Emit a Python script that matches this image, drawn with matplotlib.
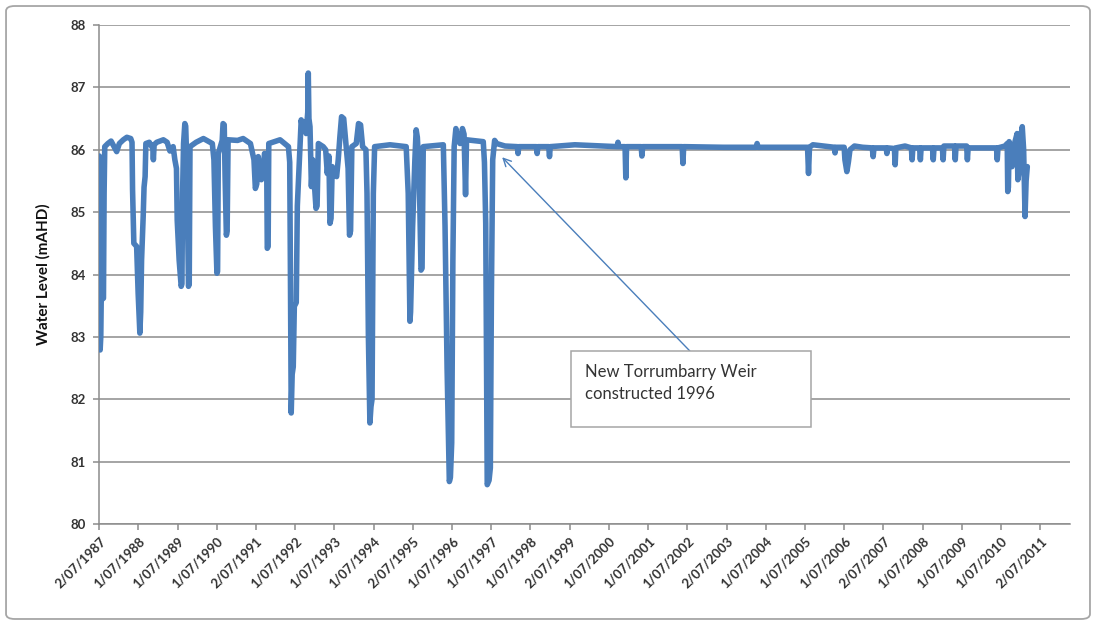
import matplotlib
matplotlib.use("Agg")
import matplotlib.pyplot as plt
from matplotlib.patches import FancyBboxPatch, Rectangle
import pandas as pd

plt.rcParams['font.family'] = ['Lato', 'DejaVu Sans']

# Water level record upstream of Torrumbarry Weir (m AHD)
dates = [
    # 1987-1988
    "1987-07-02", "1987-07-06", "1987-07-10", "1987-07-16", "1987-07-20", "1987-08-10",
    "1987-08-16", "1987-08-22", "1987-09-20", "1987-10-20", "1987-11-25", "1987-12-11",
    "1988-01-05", "1988-02-11", "1988-03-15", "1988-04-20", "1988-05-02", "1988-05-07",
    "1988-05-19", "1988-06-14", "1988-06-28", "1988-07-14", "1988-07-22", "1988-07-30",
    "1988-08-14", "1988-08-22", "1988-09-01", "1988-09-08", "1988-10-10", "1988-11-12",
    "1988-11-17", "1988-11-24", "1988-12-18",
    # 1989-1990
    "1989-02-18", "1989-03-25", "1989-04-20", "1989-05-20", "1989-06-05", "1989-06-20",
    "1989-06-27", "1989-07-15", "1989-08-03", "1989-08-10", "1989-08-16", "1989-08-25",
    "1989-09-06", "1989-09-14", "1989-09-20", "1989-09-28", "1989-10-10", "1989-10-17",
    "1989-10-24", "1989-12-20", "1990-02-26", "1990-05-20", "1990-06-04", "1990-06-18",
    "1990-07-02", "1990-07-08", "1990-07-15", "1990-08-20", "1990-08-28", "1990-09-08",
    "1990-09-16", "1990-09-28", "1990-10-05", "1990-10-14",
    # 1991-1992
    "1991-01-10", "1991-03-03", "1991-05-10", "1991-06-12", "1991-06-25", "1991-07-08",
    "1991-07-22", "1991-08-20", "1991-09-05", "1991-09-18", "1991-10-08", "1991-10-14",
    "1991-10-22", "1991-10-28", "1992-02-10", "1992-04-28", "1992-05-10", "1992-05-16",
    "1992-05-24", "1992-06-02", "1992-06-12", "1992-06-22", "1992-07-10", "1992-07-20",
    "1992-08-10", "1992-08-25", "1992-09-10", "1992-09-25", "1992-10-10", "1992-10-25",
    "1992-10-30", "1992-11-05", "1992-11-15", "1992-11-28", "1992-12-10", "1992-12-24",
    # 1993-1994
    "1993-01-10", "1993-01-20", "1993-02-01", "1993-03-18", "1993-04-10", "1993-04-25",
    "1993-05-10", "1993-05-20", "1993-05-30", "1993-06-10", "1993-06-30", "1993-07-21",
    "1993-08-05", "1993-08-20", "1993-09-05", "1993-09-25", "1993-10-16", "1993-11-05",
    "1993-11-18", "1993-11-28", "1993-12-10", "1994-01-20", "1994-02-10", "1994-03-01",
    "1994-03-20", "1994-04-20", "1994-04-30", "1994-05-13", "1994-05-27", "1994-06-06",
    "1994-06-16", "1994-06-28", "1994-07-10", "1994-11-30",
    # 1995-1997
    "1995-04-30", "1995-05-19", "1995-06-04", "1995-06-10", "1995-06-29", "1995-07-20",
    "1995-08-01", "1995-08-12", "1995-08-30", "1995-09-15", "1995-09-25", "1995-10-06",
    "1996-04-10", "1996-04-26", "1996-05-15", "1996-06-05", "1996-06-15", "1996-06-27",
    "1996-07-08", "1996-07-20", "1996-08-05", "1996-08-20", "1996-09-13", "1996-10-05",
    "1996-10-20", "1996-11-03", "1996-11-12", "1997-04-17", "1997-04-28", "1997-05-10",
    "1997-05-24", "1997-06-10", "1997-06-22", "1997-07-02", "1997-07-14", "1997-08-01",
    "1997-08-20", "1997-11-06",
    # 1998-2004
    "1998-02-28", "1998-03-07", "1998-03-14", "1998-08-25", "1998-09-01", "1998-09-08",
    "1998-12-18", "1998-12-25", "1999-01-01", "1999-08-18", "2000-09-15", "2000-09-23",
    "2000-10-01", "2000-11-28", "2000-12-05", "2000-12-12", "2001-04-27", "2001-05-04",
    "2001-05-11", "2002-05-14", "2002-05-21", "2002-05-28", "2003-06-01", "2004-04-01",
    "2004-04-11", "2004-04-21",
    # 2005-2009
    "2005-07-25", "2005-08-03", "2005-08-12", "2005-09-13", "2006-03-31", "2006-04-07",
    "2006-04-14", "2006-07-01", "2006-07-08", "2006-07-26", "2006-08-10", "2006-08-24",
    "2006-10-05", "2006-12-20", "2007-03-20", "2007-03-28", "2007-04-05", "2007-07-28",
    "2007-08-03", "2007-08-10", "2007-10-12", "2007-10-19", "2007-10-26", "2008-01-19",
    "2008-03-18", "2008-03-25", "2008-04-01", "2008-06-03", "2008-06-10", "2008-06-17",
    "2008-10-01", "2008-10-08", "2008-10-15", "2009-01-01", "2009-01-08", "2009-01-15",
    "2009-04-24", "2009-05-01", "2009-05-08", "2009-08-15", "2009-08-22", "2009-08-29",
    # 2010-2011
    "2010-05-20", "2010-05-27", "2010-06-03", "2010-08-07", "2010-08-28", "2010-09-02",
    "2010-09-08", "2010-09-15", "2010-10-12", "2010-10-20", "2010-11-28", "2010-12-05",
    "2010-12-12", "2010-12-25", "2011-01-15", "2011-01-28", "2011-02-10", "2011-02-20",
    "2011-03-03",
]
levels = [
    # 1987-1988
    85.90, 84.60, 82.79, 83.00, 83.59, 83.62,
    85.30, 86.05, 86.10, 86.14, 86.02, 85.97,
    86.10, 86.16, 86.20, 86.18, 86.12, 85.36,
    84.50, 84.45, 83.70, 83.06, 83.40, 84.23,
    84.93, 85.40, 85.57, 86.10, 86.12, 86.02,
    85.84, 86.08, 86.12,
    # 1989-1990
    86.16, 86.12, 85.98, 86.05, 85.84, 85.70,
    84.87, 84.23, 83.81, 83.85, 85.30, 86.10,
    86.42, 86.38, 86.05, 85.30, 83.81, 83.85,
    86.05, 86.12, 86.18, 86.10, 85.84, 84.77,
    84.02, 84.05, 85.94, 86.15, 86.42, 86.40,
    85.57, 84.63, 84.70, 86.16,
    # 1991-1992
    86.15, 86.18, 86.10, 85.84, 85.38, 85.45,
    85.89, 85.52, 85.60, 85.94, 85.90, 84.42,
    84.45, 86.10, 86.16, 86.05, 85.80, 84.20,
    81.78, 82.40, 82.52, 83.49, 83.55, 85.10,
    85.90, 86.48, 86.30, 86.45, 86.26, 86.60,
    87.23, 86.50, 86.37, 85.41, 85.84, 85.50,
    # 1993-1994
    85.06, 85.10, 86.10, 86.05, 86.00, 85.62,
    85.90, 84.82, 84.90, 85.73, 85.60, 85.57,
    85.84, 86.20, 86.53, 86.50, 86.10, 85.70,
    84.63, 84.70, 86.05, 86.10, 86.42, 86.40,
    86.05, 86.00, 85.30, 83.00, 81.62, 81.88,
    82.00, 85.30, 86.05, 86.08,
    # 1995-1997
    86.05, 85.30, 83.25, 83.40, 84.77, 85.84,
    86.32, 86.20, 85.57, 84.07, 84.10, 86.05,
    86.08, 84.77, 82.50, 80.68, 80.75, 81.30,
    84.23, 86.05, 86.34, 86.20, 86.10, 86.34,
    86.25, 85.28, 86.16, 86.13, 85.80, 84.82,
    80.63, 80.70, 80.90, 83.70, 85.84, 86.15,
    86.10, 86.06,
    # 1998-2004
    86.05, 85.94, 86.05, 86.05, 85.94, 86.05,
    86.05, 85.89, 86.05, 86.08, 86.05, 86.12,
    86.05, 86.05, 85.55, 86.05, 86.05, 85.90,
    86.05, 86.05, 85.78, 86.05, 86.04, 86.04,
    86.10, 86.04,
    # 2005-2009
    86.04, 85.62, 86.04, 86.08, 86.04, 85.95,
    86.04, 86.04, 85.84, 85.65, 85.81, 86.00,
    86.06, 86.04, 86.03, 85.89, 86.03, 86.03,
    85.94, 86.03, 86.02, 85.76, 86.03, 86.06,
    86.03, 85.84, 86.03, 86.03, 85.84, 86.03,
    86.03, 85.84, 86.03, 86.03, 85.84, 86.06,
    86.06, 85.84, 86.06, 86.06, 85.84, 86.03,
    # 2010-2011
    86.03, 85.84, 86.03, 86.06, 86.10, 85.33,
    85.40, 86.13, 85.73, 86.00, 86.26, 85.52,
    85.60, 86.10, 86.37, 86.00, 84.93, 85.50,
    85.73,
]

tick_labels = [
    "2/07/1987", "1/07/1988", "1/07/1989", "1/07/1990", "2/07/1991", "1/07/1992",
    "1/07/1993", "1/07/1994", "2/07/1995", "1/07/1996", "1/07/1997", "1/07/1998",
    "2/07/1999", "1/07/2000", "1/07/2001", "1/07/2002", "2/07/2003", "1/07/2004",
    "1/07/2005", "1/07/2006", "2/07/2007", "1/07/2008", "1/07/2009", "1/07/2010",
    "2/07/2011",
]
y_ticks = [80, 81, 82, 83, 84, 85, 86, 87, 88]

note_text = "New Torrumbarry Weir\nconstructed 1996"
note_date = "1997-10-10"
note_level = 85.88

x = pd.to_datetime(dates)
tick_pos = pd.to_datetime(tick_labels, format="%d/%m/%Y")

fig = plt.figure(figsize=(10.97, 6.26), dpi=100)
ax = fig.add_axes([0.0905, 0.163, 0.885, 0.797])

grid_col = "#8C8C8C"
text_col = "#333333"
line_col = "#4A7EBB"

ax.plot(x, levels, color=line_col, lw=4.0, solid_joinstyle="round",
        solid_capstyle="round", zorder=3)

ax.set_ylim(80, 88)
ax.set_yticks(y_ticks)
ax.set_xlim(pd.Timestamp("1987-07-02"), pd.Timestamp("2012-04-05"))
ax.set_xticks(tick_pos)
ax.set_xticklabels(tick_labels, rotation=45, ha="right", va="top",
                   rotation_mode="anchor")

ax.yaxis.grid(True, color=grid_col, lw=1.1, zorder=1)
ax.set_axisbelow(True)
for s in ("top", "right"):
    ax.spines[s].set_visible(False)
for s in ("left", "bottom"):
    ax.spines[s].set_color(grid_col)
    ax.spines[s].set_linewidth(1.1)

ax.tick_params(axis="both", colors=grid_col, length=4, width=1.1,
               labelcolor=text_col, labelsize=9.5)
ax.tick_params(axis="x", pad=4)
ax.tick_params(axis="y", pad=6)
for lab in ax.get_xticklabels() + ax.get_yticklabels():
    lab.set_fontweight("bold")

ax.set_ylabel("Water Level (mAHD)", fontsize=11, fontweight="bold",
              color="#111111", labelpad=14)

# Callout box with arrow pointing to the start of the regulated pool
box = Rectangle((0.486, 0.1944), 0.247, 0.1523, transform=ax.transAxes,
                facecolor="white", edgecolor="#A6A6A6", lw=1.1, zorder=5)
ax.add_patch(box)
ax.text(0.5003, 0.283, note_text, transform=ax.transAxes, ha="left",
        va="center", fontsize=12, color=text_col, linespacing=1.45, zorder=6)
ax.annotate("", xy=(pd.Timestamp(note_date), note_level),
            xytext=(0.6083, 0.3467), textcoords="axes fraction",
            arrowprops=dict(arrowstyle="->", color=line_col, lw=1.0,
                            mutation_scale=14, shrinkA=0, shrinkB=0),
            zorder=4)

frame = FancyBboxPatch((0.0055, 0.0112), 0.9881, 0.9792,
                       boxstyle="round,pad=0,rounding_size=0.008",
                       transform=fig.transFigure, fill=False,
                       edgecolor="#A6A6A6", lw=1.3)
fig.patches.append(frame)

fig.savefig("out.png", dpi=100, facecolor="white")
